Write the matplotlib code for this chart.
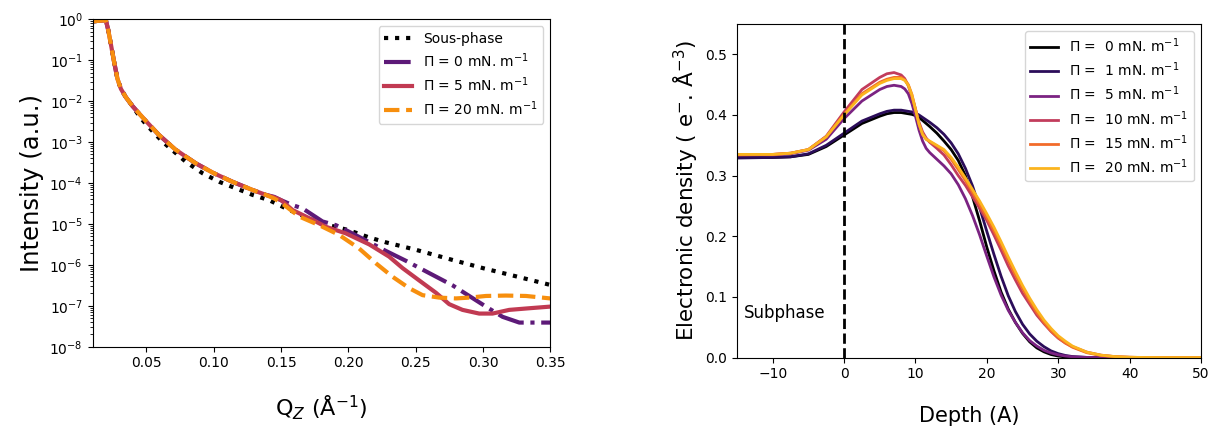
import numpy as np
import matplotlib
matplotlib.use("Agg")
import matplotlib.pyplot as plt

# ---------------- Left panel: reflectivity (log10 of intensity) ----------------
q_common = [0.010, 0.0198, 0.0215, 0.0235, 0.026, 0.0284, 0.031, 0.0346, 0.0396]
log_common = [-0.05, -0.02, -0.25, -0.6, -1.05, -1.45, -1.7, -1.9, -2.12]

q_film = [0.045, 0.050, 0.0594, 0.0718, 0.0867, 0.100, 0.1139, 0.1288, 0.1387]
log_film = [-2.32, -2.5, -2.83, -3.19, -3.52, -3.76, -3.97, -4.17, -4.29]

q_sub = [0.045, 0.050, 0.0619, 0.0718, 0.0792, 0.0916, 0.104, 0.1164, 0.1288, 0.1412,
         0.1536, 0.166, 0.1783, 0.200, 0.2155, 0.2279, 0.250, 0.2774, 0.300, 0.327, 0.350]
log_sub = [-2.38, -2.58, -2.99, -3.27, -3.48, -3.76, -3.97, -4.13, -4.29, -4.42,
           -4.62, -4.8, -4.97, -5.15, -5.33, -5.45, -5.63, -5.88, -6.08, -6.3, -6.49]

q_p0 = [0.145, 0.150, 0.1585, 0.166, 0.1734, 0.1808, 0.1907, 0.1981, 0.2105, 0.2279,
        0.2427, 0.260, 0.2774, 0.2898, 0.3022, 0.3146, 0.327, 0.350]
log_p0 = [-4.34, -4.42, -4.54, -4.62, -4.78, -4.94, -5.03, -5.15, -5.36, -5.66,
          -5.9, -6.2, -6.5, -6.76, -7.02, -7.27, -7.41, -7.41]

q_p5 = [0.145, 0.150, 0.1585, 0.1734, 0.1833, 0.1981, 0.2155, 0.2303, 0.2403, 0.2526,
        0.265, 0.2749, 0.2848, 0.2972, 0.3071, 0.3195, 0.3344, 0.350]
log_p5 = [-4.35, -4.42, -4.66, -4.9, -5.07, -5.23, -5.5, -5.8, -6.08, -6.38,
          -6.68, -6.96, -7.1, -7.19, -7.19, -7.1, -7.06, -7.02]

q_p20 = [0.145, 0.150, 0.1635, 0.1783, 0.1932, 0.208, 0.2204, 0.2328, 0.2452, 0.2551,
         0.2675, 0.2799, 0.290, 0.3022, 0.317, 0.332, 0.350]
log_p20 = [-4.38, -4.48, -4.82, -5.03, -5.27, -5.6, -5.96, -6.29, -6.57, -6.74,
           -6.8, -6.82, -6.8, -6.76, -6.75, -6.76, -6.82]

left_labels = ["Sous-phase", r"Π = 0 mN. m$^{-1}$", r"Π = 5 mN. m$^{-1}$", r"Π = 20 mN. m$^{-1}$"]
left_colors = ["black", "#5d1a78", "#c13a52", "#f78f0e"]
left_styles = [":", "-.", "-", "--"]

# ---------------- Right panel: electron density profiles ----------------
depth = [-15, -10, -7.5, -5, -2.5, 0, 2.5, 5, 6, 7, 8, 8.5, 9, 9.5, 10, 10.5, 11, 11.5, 12,
         13, 14, 15, 16, 17, 18, 19, 20, 21, 22, 23, 24, 25, 26, 27, 28, 29, 30,
         31, 32, 34, 36, 38, 40, 42, 45, 50]
rho_0 = [0.330, 0.330, 0.331, 0.335, 0.348, 0.367, 0.386, 0.398, 0.402, 0.404, 0.404, 0.403, 0.402, 0.401, 0.399, 0.396, 0.391, 0.386, 0.381,
         0.370, 0.357, 0.343, 0.325, 0.300, 0.265, 0.225, 0.182, 0.143, 0.108, 0.080, 0.058, 0.040, 0.026, 0.016, 0.0095, 0.005, 0.0025,
         0.001, 0.0004, 0.0, 0.0, 0.0, 0.0, 0.0, 0.0, 0.0]
rho_1 = [0.329, 0.330, 0.331, 0.336, 0.350, 0.370, 0.390, 0.402, 0.406, 0.408, 0.408, 0.407, 0.406, 0.405, 0.403, 0.400, 0.396, 0.392, 0.388,
         0.379, 0.368, 0.354, 0.336, 0.312, 0.283, 0.247, 0.208, 0.170, 0.134, 0.102, 0.076, 0.055, 0.039, 0.027, 0.018, 0.011, 0.0065,
         0.0035, 0.0017, 0.0003, 0.0, 0.0, 0.0, 0.0, 0.0, 0.0]
rho_5 = [0.334, 0.334, 0.336, 0.342, 0.360, 0.394, 0.423, 0.442, 0.447, 0.449, 0.447, 0.443, 0.435, 0.419, 0.398, 0.375, 0.357, 0.345, 0.338,
         0.327, 0.316, 0.303, 0.285, 0.262, 0.234, 0.202, 0.167, 0.133, 0.103, 0.078, 0.058, 0.041, 0.028, 0.019, 0.012, 0.0075, 0.0045,
         0.0025, 0.0013, 0.0003, 0.0, 0.0, 0.0, 0.0, 0.0, 0.0]
rho_10 = [0.334, 0.335, 0.337, 0.343, 0.365, 0.405, 0.442, 0.462, 0.468, 0.470, 0.466, 0.460, 0.448, 0.430, 0.410, 0.388, 0.372, 0.362, 0.355,
          0.345, 0.334, 0.318, 0.300, 0.284, 0.265, 0.246, 0.226, 0.202, 0.177, 0.151, 0.128, 0.106, 0.088, 0.070, 0.056, 0.043, 0.032,
          0.024, 0.018, 0.009, 0.004, 0.0015, 0.0005, 0.0001, 0.0, 0.0]
rho_15 = [0.335, 0.335, 0.337, 0.343, 0.364, 0.401, 0.435, 0.454, 0.459, 0.462, 0.462, 0.458, 0.450, 0.434, 0.410, 0.385, 0.368, 0.360, 0.356,
          0.349, 0.341, 0.327, 0.310, 0.292, 0.272, 0.252, 0.231, 0.209, 0.185, 0.160, 0.136, 0.114, 0.093, 0.074, 0.058, 0.044, 0.033,
          0.024, 0.017, 0.008, 0.0035, 0.0014, 0.0005, 0.0001, 0.0, 0.0]
rho_20 = [0.335, 0.335, 0.337, 0.343, 0.364, 0.400, 0.433, 0.452, 0.457, 0.460, 0.460, 0.457, 0.449, 0.433, 0.409, 0.385, 0.368, 0.360, 0.357,
          0.350, 0.343, 0.330, 0.314, 0.296, 0.277, 0.258, 0.237, 0.215, 0.191, 0.166, 0.142, 0.119, 0.098, 0.079, 0.062, 0.048, 0.036,
          0.027, 0.019, 0.009, 0.004, 0.0016, 0.0006, 0.0002, 0.0, 0.0]

right_labels = [r"Π =  0 mN. m$^{-1}$", r"Π =  1 mN. m$^{-1}$", r"Π =  5 mN. m$^{-1}$",
                r"Π =  10 mN. m$^{-1}$", r"Π =  15 mN. m$^{-1}$", r"Π =  20 mN. m$^{-1}$"]
right_colors = ["#000000", "#2b0d5a", "#7b2382", "#c23c5c", "#f26b2a", "#fbb41e"]

# ---------------- Figure ----------------
fig = plt.figure(figsize=(12.19, 4.29), dpi=100)
ax1 = fig.add_axes([0.076, 0.1918, 0.3754, 0.7632])
ax2 = fig.add_axes([0.6046, 0.1665, 0.3806, 0.7775])

series_left = [
    (q_common + q_sub, log_common + log_sub),
    (q_common + q_film + q_p0, log_common + log_film + log_p0),
    (q_common + q_film + q_p5, log_common + log_film + log_p5),
    (q_common + q_film + q_p20, log_common + log_film + log_p20),
]
for (q, lg), lab, col, ls in zip(series_left, left_labels, left_colors, left_styles):
    ax1.plot(q, 10.0 ** np.array(lg), color=col, ls=ls, lw=3, label=lab)
ax1.set_yscale("log")
ax1.set_ylim(1e-8, 1)
ax1.set_xlim(0.01, 0.35)
ax1.set_xticks([0.05, 0.10, 0.15, 0.20, 0.25, 0.30, 0.35])
ax1.set_xticklabels(["0.05", "0.10", "0.15", "0.20", "0.25", "0.30", "0.35"])
ax1.set_yticks([10.0 ** k for k in range(-8, 1)])
ax1.tick_params(labelsize=10)
ax1.set_ylabel("Intensity (a.u.)", fontsize=17.5)
ax1.set_xlabel(r"Q$_Z$ (Å$^{-1}$)", fontsize=16, labelpad=17)
ax1.legend(loc="upper right", fontsize=10, handlelength=2, labelspacing=0.4)

for rho, lab, col in zip([rho_0, rho_1, rho_5, rho_10, rho_15, rho_20], right_labels, right_colors):
    ax2.plot(depth, rho, color=col, lw=2, label=lab)
ax2.axvline(0, color="black", ls="--", lw=2)
ax2.set_xlim(-15, 50)
ax2.set_ylim(0, 0.55)
ax2.set_yticks([0.0, 0.1, 0.2, 0.3, 0.4, 0.5])
ax2.tick_params(labelsize=10)
ax2.text(-14, 0.074, "Subphase", fontsize=12, va="center")
ax2.set_xlabel("Depth (A)", fontsize=15, labelpad=18)
ax2.set_ylabel(r"Electronic density ( e$^{-}$. Å$^{-3}$)", fontsize=15.5)
ax2.legend(loc="upper right", fontsize=10, handlelength=2, labelspacing=0.4)

fig.savefig("out.png", dpi=100)
